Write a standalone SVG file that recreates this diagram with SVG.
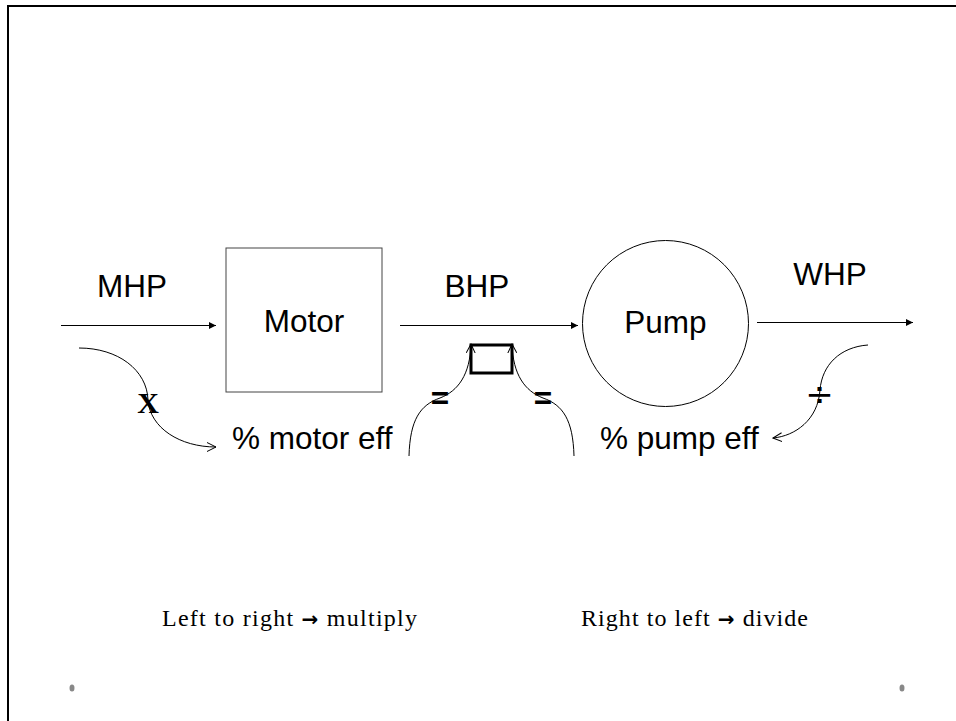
<svg xmlns="http://www.w3.org/2000/svg" width="956" height="721" viewBox="0 0 956 721">
<style>
.lbl{font-family:"Liberation Sans",Arial,sans-serif;font-size:31.5px;fill:#000}
.ser{font-family:"Liberation Serif","Times New Roman",serif;fill:#000}
.arr{font-family:"DejaVu Sans",sans-serif;font-weight:bold}
.ln{fill:none;stroke:#000;stroke-width:1}
.cv{fill:none;stroke:#000;stroke-width:1}
</style>
<defs>
<marker id="tri" viewBox="0 0 10 10" refX="10" refY="5" markerWidth="9" markerHeight="7" markerUnits="userSpaceOnUse" orient="auto">
<path d="M0,0 L10,5 L0,10 z" fill="#000"/>
</marker>
<marker id="open" viewBox="0 0 10 10" refX="9" refY="5" markerWidth="10" markerHeight="10" markerUnits="userSpaceOnUse" orient="auto">
<path d="M0,0.5 L9,5 L0,9.5" fill="none" stroke="#000" stroke-width="1"/>
</marker>
</defs>
<rect width="956" height="721" fill="#fff"/>
<path d="M8,721 V6 H956" fill="none" stroke="#000" stroke-width="2"/>

<g id="motor">
<rect x="226" y="248" width="156" height="144" fill="#fff" stroke="#444" stroke-width="1"/>
<text class="lbl" x="304" y="332" text-anchor="middle">Motor</text>
</g>
<g id="pump">
<circle cx="665.5" cy="323.5" r="83" fill="#fff" stroke="#000" stroke-width="1"/>
<text class="lbl" x="665.5" y="333" text-anchor="middle">Pump</text>
</g>
<g id="labels">
<text class="lbl" x="132" y="297" text-anchor="middle">MHP</text>
<text class="lbl" x="477" y="297" text-anchor="middle">BHP</text>
<text class="lbl" x="830" y="285" text-anchor="middle">WHP</text>
<text class="lbl" x="232" y="449">% motor eff</text>
<text class="lbl" x="600" y="449">% pump eff</text>
<text class="ser" x="148" y="413" font-size="30" font-weight="bold" text-anchor="middle">X</text>
<text class="lbl" x="440" y="409" font-size="24" font-weight="bold" text-anchor="middle">=</text>
<text class="lbl" x="543" y="409" font-size="24" font-weight="bold" text-anchor="middle">=</text>
<text x="819.5" y="406" font-family="'DejaVu Sans',sans-serif" font-size="34" text-anchor="middle">÷</text>
<rect x="471" y="345" width="41" height="28" fill="none" stroke="#000" stroke-width="3"/>
</g>
<g id="connectors">
<line class="ln" x1="61" y1="325.5" x2="216" y2="325.5" marker-end="url(#tri)"/>
<line class="ln" x1="400" y1="325.5" x2="578" y2="325.5" marker-end="url(#tri)"/>
<line class="ln" x1="757" y1="322.5" x2="913" y2="322.5" marker-end="url(#tri)"/>
<path class="cv" d="M79,348 C118,348 147,370 148,400 C150,428 180,447 216,447" marker-end="url(#open)"/>
<path class="cv" d="M409,456 C410,420 420,405 440,398 C458,391 470,375 471,344" marker-end="url(#open)"/>
<path class="cv" d="M574,456 C573,420 563,405 543,398 C525,391 513,375 512,344" marker-end="url(#open)"/>
<path class="cv" d="M868,345 C840,347 822,365 820,390 C818,420 795,436 773,438" marker-end="url(#open)"/>
</g>
<g id="notes">
<text class="ser" x="162" y="626" font-size="24" textLength="255" lengthAdjust="spacing">Left to right <tspan class="arr" font-size="20">→</tspan> multiply</text>
<text class="ser" x="581" y="626" font-size="24" textLength="227" lengthAdjust="spacing">Right to left <tspan class="arr" font-size="20">→</tspan> divide</text>
</g>
<ellipse cx="72" cy="688" rx="2.5" ry="3.5" fill="#888"/>
<ellipse cx="902" cy="688" rx="2.5" ry="3.5" fill="#888"/>
</svg>
